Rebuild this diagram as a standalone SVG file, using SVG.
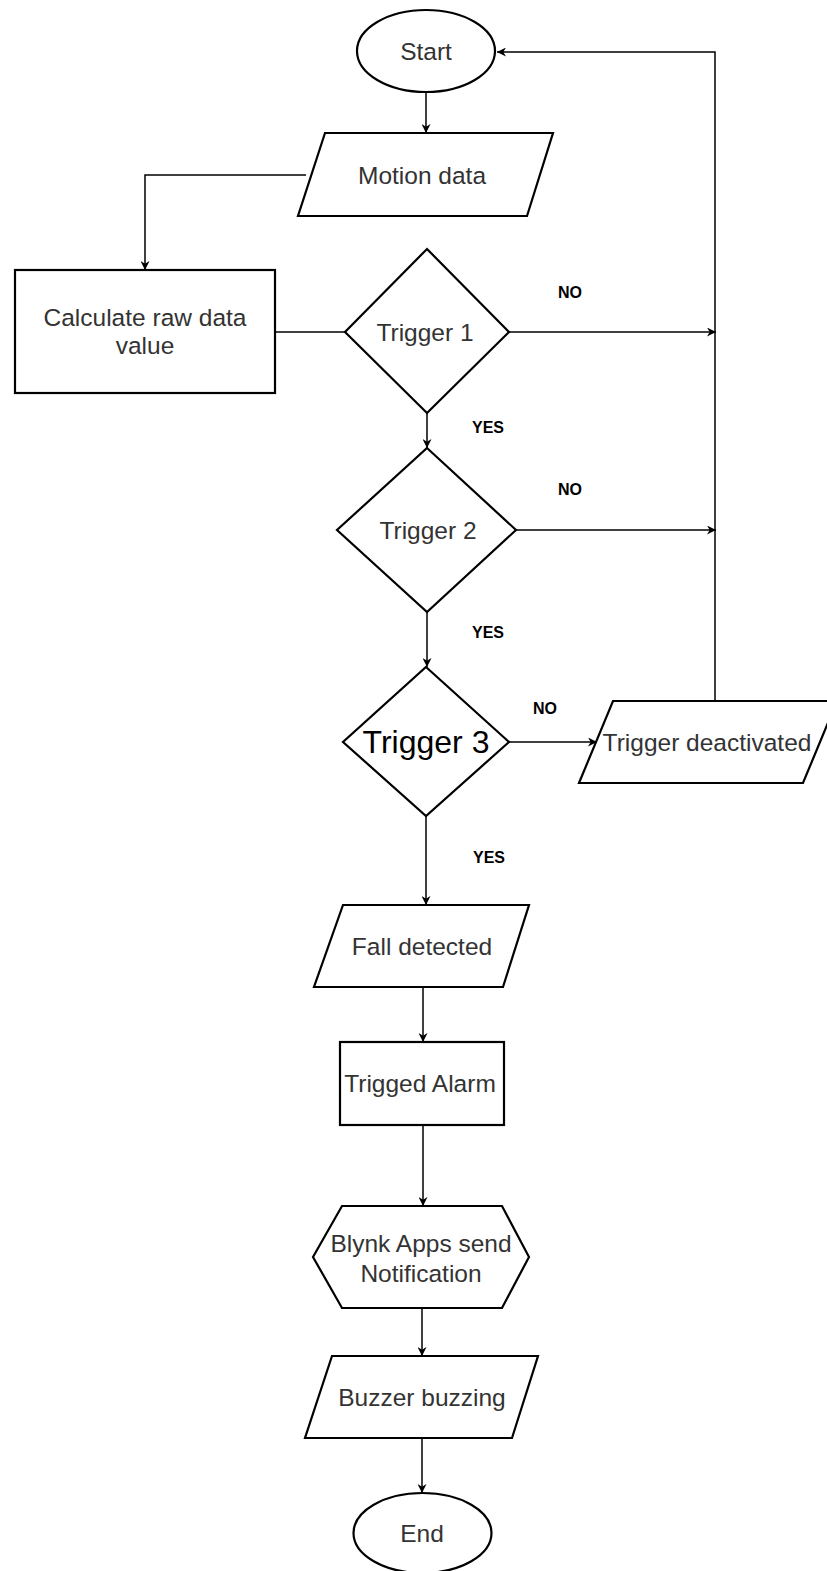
<svg xmlns="http://www.w3.org/2000/svg" width="827" height="1571" viewBox="0 0 827 1571">
<style>
.shape{fill:#fff;stroke:#000;stroke-width:2.2}
.lbl{font-family:"Liberation Sans",Arial,sans-serif;font-size:24.5px;fill:#333;text-anchor:middle;dominant-baseline:central}
.big{font-size:32px;fill:#000}
.yn{font-family:"Liberation Sans",Arial,sans-serif;font-size:16px;font-weight:bold;fill:#000;text-anchor:middle;dominant-baseline:central}
.conn{fill:none;stroke:#000;stroke-width:1.5}
</style>
<defs>
<marker id="arr" viewBox="0 0 10 10" refX="10" refY="5" markerWidth="9" markerHeight="9" markerUnits="userSpaceOnUse" orient="auto">
<path d="M0,0 L10,5 L0,10 L3,5 z" fill="#000"/>
</marker>
</defs>
<rect width="827" height="1571" fill="#fff"/>
<g id="connectors">
<path class="conn" d="M426,93 L426,133" marker-end="url(#arr)"/>
<path class="conn" d="M306,175 L145,175 L145,270" marker-end="url(#arr)"/>
<path class="conn" d="M275,332 L345,332"/>
<path class="conn" d="M509,332 L716,332" marker-end="url(#arr)"/>
<path class="conn" d="M427,413 L427,448" marker-end="url(#arr)"/>
<path class="conn" d="M516,530 L716,530" marker-end="url(#arr)"/>
<path class="conn" d="M427,612 L427,667" marker-end="url(#arr)"/>
<path class="conn" d="M509,742 L597,742" marker-end="url(#arr)"/>
<path class="conn" d="M715,701 L715,52 L497,52" marker-end="url(#arr)"/>
<path class="conn" d="M426,816 L426,905" marker-end="url(#arr)"/>
<path class="conn" d="M423,987 L423,1042" marker-end="url(#arr)"/>
<path class="conn" d="M423,1125 L423,1206" marker-end="url(#arr)"/>
<path class="conn" d="M422,1308 L422,1356" marker-end="url(#arr)"/>
<path class="conn" d="M422,1438 L422,1493" marker-end="url(#arr)"/>
<text class="yn" x="570" y="292">NO</text>
<text class="yn" x="488" y="427">YES</text>
<text class="yn" x="570" y="489">NO</text>
<text class="yn" x="488" y="632">YES</text>
<text class="yn" x="545" y="708">NO</text>
<text class="yn" x="489" y="857">YES</text>
</g>
<g id="start">
<ellipse class="shape" cx="426" cy="51" rx="69" ry="41"/>
<text class="lbl" x="426" y="51">Start</text>
</g>
<g id="motion">
<polygon class="shape" points="325,133 553,133 527,216 298,216"/>
<text class="lbl" x="422" y="175">Motion data</text>
</g>
<g id="calculate">
<rect class="shape" x="15" y="270" width="260" height="123"/>
<text class="lbl" x="145" y="317">Calculate raw data</text>
<text class="lbl" x="145" y="345">value</text>
</g>
<g id="trigger1">
<polygon class="shape" points="427,249 509,332 427,413 345,332"/>
<text class="lbl" x="425" y="332">Trigger 1</text>
</g>
<g id="trigger2">
<polygon class="shape" points="427,448 516,530 427,612 337,530"/>
<text class="lbl" x="428" y="530">Trigger 2</text>
</g>
<g id="trigger3">
<polygon class="shape" points="426,667 509,742 426,816 343,742"/>
<text class="lbl big" x="426" y="742">Trigger 3</text>
</g>
<g id="deactivated">
<polygon class="shape" points="613,701 837,701 803,783 579,783"/>
<text class="lbl" x="707" y="742">Trigger deactivated</text>
</g>
<g id="fall">
<polygon class="shape" points="343,905 529,905 503,987 314,987"/>
<text class="lbl" x="422" y="946">Fall detected</text>
</g>
<g id="alarm">
<rect class="shape" x="340" y="1042" width="164" height="83"/>
<text class="lbl" x="420" y="1083">Trigged Alarm</text>
</g>
<g id="blynk">
<polygon class="shape" points="342,1206 502,1206 529,1257 502,1308 342,1308 313,1257"/>
<text class="lbl" x="421" y="1243">Blynk Apps send</text>
<text class="lbl" x="421" y="1273">Notification</text>
</g>
<g id="buzzer">
<polygon class="shape" points="332,1356 538,1356 512,1438 305,1438"/>
<text class="lbl" x="422" y="1397">Buzzer buzzing</text>
</g>
<g id="end">
<ellipse class="shape" cx="422.5" cy="1533" rx="69" ry="40"/>
<text class="lbl" x="422" y="1533">End</text>
</g>
</svg>
